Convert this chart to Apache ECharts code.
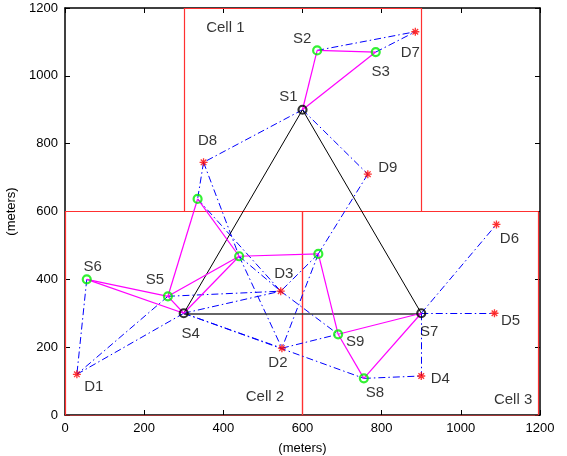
<!DOCTYPE html>
<html><head><meta charset="utf-8">
<script src="https://cdn.jsdelivr.net/npm/echarts@6/dist/echarts.min.js"></script>
<style>html,body{margin:0;padding:0;background:#fff}#c{width:567px;height:456px}</style>
</head><body><div id="c"></div>
<script>
// ---- data ----
const hubNames = ['S1', 'S4', 'S7'];
const hubX = [600, 300, 900];
const hubY = [900, 300, 300];

const relayNames = ['S2', 'S3', 'S5', 'S6', 'S8', 'S9', 'R10', 'R11', 'R12'];
const relayX = [637, 785, 260, 55, 755, 690, 335, 440, 640];
const relayY = [1075, 1070, 350, 400, 108, 238, 637, 468, 475];

const destNames = ['D1', 'D2', 'D3', 'D4', 'D5', 'D6', 'D7', 'D8', 'D9'];
const destX = [30, 548, 545, 900, 1085, 1090, 885, 350, 765];
const destY = [120, 197, 365, 115, 300, 562, 1130, 745, 710];

const triangleEdges = [['S1', 'S4'], ['S7', 'S1']];
const baseEdge = [['S4', 'S7']];
const relayEdges = [['S1','S2'],['S2','S3'],['S3','S1'],['S6','S5'],['S6','S4'],['S5','S4'],
  ['S5','R10'],['S5','R11'],['S4','R11'],['R10','R11'],['R11','R12'],['R12','S9'],
  ['S9','S8'],['S9','S7'],['S8','S7']];
const linkEdges = [['S2','D7'],['S3','D7'],['S1','D8'],['S1','D9'],['D8','R10'],['D8','R11'],
  ['R10','D3'],['D9','R12'],['R12','D3'],['R12','D2'],['S6','D1'],['S5','D1'],['S4','D1'],
  ['S5','D3'],['S4','D3'],['S4','D2'],['R11','D2'],['R11','D3'],['D3','S9'],['D2','S9'],
  ['S4','S8'],['S7','D6'],['S7','D5'],['S7','D4'],['S8','D4']];

const cellNames = ['Cell 1', 'Cell 2', 'Cell 3'];
const cellX0 = [300, 0, 600];
const cellX1 = [900, 600, 1196];
const cellY0 = [600, 0, 0];
const cellY1 = [1200, 600, 600];
const cellLabelX = [405, 505, 1132];
const cellLabelY = [1140, 53, 44];

const xTicks = [0, 200, 400, 600, 800, 1000, 1200];
const yTicks = [0, 200, 400, 600, 800, 1000, 1200];

// ---- styles (label offsets in px) ----
const labelOffset = {
  S1: [-14, -13], S2: [-15, -12], S3: [5, 20], S4: [7, 21], S5: [-13, -16], S6: [6, -12],
  S7: [8, 19], S8: [11, 14], S9: [17, 8],
  D1: [17, 13], D2: [-4, 15], D3: [3, -17], D4: [19, 3], D5: [16, 8], D6: [13, 14],
  D7: [-5, 21], D8: [4, -21], D9: [20, -6]
};

// ---- build ----
const pos = {};
hubNames.forEach((n, i) => pos[n] = [hubX[i], hubY[i]]);
relayNames.forEach((n, i) => pos[n] = [relayX[i], relayY[i]]);
destNames.forEach((n, i) => pos[n] = [destX[i], destY[i]]);

function edgeData(list) { return list.map(e => ({ coords: [pos[e[0]], pos[e[1]]] })); }

const cellSegs = [];
cellNames.forEach((c, i) => {
  const a = [cellX0[i], cellY0[i]], b = [cellX1[i], cellY0[i]], cc = [cellX1[i], cellY1[i]], d = [cellX0[i], cellY1[i]];
  cellSegs.push({ coords: [a, b] }, { coords: [b, cc] }, { coords: [cc, d] }, { coords: [d, a] });
});

function pointData(names) {
  return names.map(n => {
    const o = labelOffset[n];
    return {
      name: n, value: pos[n],
      label: o ? { show: true, position: 'inside', offset: o, formatter: n } : { show: false }
    };
  });
}

const font = 'Liberation Sans, Arial, sans-serif';
const nodeLabel = { color: '#000', fontSize: 15, fontFamily: font };

const asterisk = 'path://M5,0 L5,10 M0,5 L10,5 M1.5,1.5 L8.5,8.5 M1.5,8.5 L8.5,1.5';

const chart = echarts.init(document.getElementById('c'));
const axisCommon = {
  type: 'value', min: 0, max: 1200, interval: 200,
  axisLine: { show: true, onZero: false, lineStyle: { color: '#000', width: 1.5 } },
  axisTick: { show: true, inside: true, length: 5, lineStyle: { color: '#000' } },
  splitLine: { show: false },
  axisLabel: { color: '#000', fontSize: 13, fontFamily: font }
};
function lineSeries(z, style, data) {
  return { type: 'lines', coordinateSystem: 'cartesian2d', z: z, silent: true,
    lineStyle: Object.assign({ opacity: 1, curveness: 0 }, style), data: data };
}
chart.setOption({
  animation: false,
  backgroundColor: '#fff',
  grid: { left: 65, right: 27, top: 8, bottom: 41, show: false, containLabel: false, outerBoundsMode: 'none' },
  xAxis: [
    Object.assign({}, axisCommon, { position: 'bottom', name: '(meters)', nameLocation: 'middle', nameGap: 27,
      nameTextStyle: { color: '#000', fontSize: 13, fontFamily: font },
      axisLabel: Object.assign({}, axisCommon.axisLabel, { margin: 7, formatter: v => xTicks.includes(v) ? String(v) : '' }) }),
    Object.assign({}, axisCommon, { position: 'top', axisLabel: { show: false } })
  ],
  yAxis: [
    Object.assign({}, axisCommon, { position: 'left', name: '(meters)', nameLocation: 'middle', nameGap: 46,
      nameTextStyle: { color: '#000', fontSize: 13, fontFamily: font },
      axisLabel: Object.assign({}, axisCommon.axisLabel, { margin: 7, formatter: v => yTicks.includes(v) ? String(v) : '' }) }),
    Object.assign({}, axisCommon, { position: 'right', axisLabel: { show: false } })
  ],
  series: [
    lineSeries(1, { color: '#ff3030', width: 1.2 }, cellSegs),
    lineSeries(2, { color: '#0000ff', width: 1, type: [7, 3, 1.5, 3] }, edgeData(linkEdges)),
    lineSeries(3, { color: '#000', width: 1 }, edgeData(triangleEdges)),
    lineSeries(3, { color: '#333', width: 1.5 }, edgeData(baseEdge)),
    lineSeries(4, { color: '#ff00ff', width: 1.2 }, edgeData(relayEdges)),
    { type: 'scatter', z: 5, symbol: 'circle', symbolSize: 8,
      itemStyle: { color: 'rgba(0,0,0,0)', borderColor: '#00ee00', borderWidth: 2.2 },
      label: nodeLabel, data: pointData(relayNames) },
    { type: 'scatter', z: 5, symbol: 'circle', symbolSize: 8,
      itemStyle: { color: 'rgba(0,0,0,0)', borderColor: '#000', borderWidth: 2.2 },
      label: nodeLabel, data: pointData(hubNames) },
    { type: 'scatter', z: 5, symbol: asterisk, symbolSize: 8,
      itemStyle: { color: 'none', borderColor: '#ff0000', borderWidth: 1.3 },
      label: nodeLabel, data: pointData(destNames) },
    { type: 'scatter', z: 5, symbolSize: 0,
      label: { show: true, position: 'inside', formatter: p => p.name, color: '#000', fontSize: 15, fontFamily: font },
      data: cellNames.map((n, i) => ({ name: n, value: [cellLabelX[i], cellLabelY[i]] })) }
  ]
});
</script></body></html>
